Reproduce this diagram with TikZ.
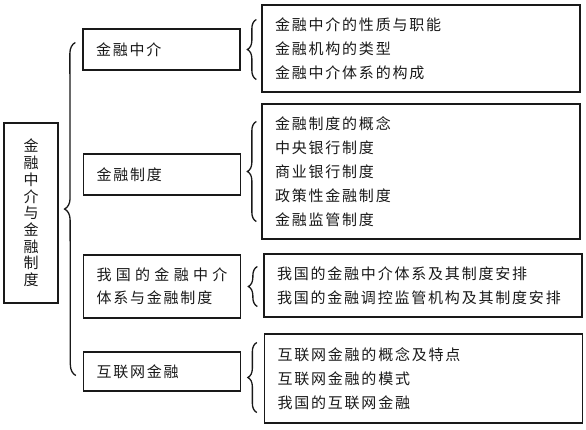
\documentclass[tikz,border=0pt]{standalone}
\usepackage{fontspec}
\newfontfamily\cjk[LetterSpace=12]{Noto Sans CJK SC}
\usetikzlibrary{calc,decorations.pathreplacing}
\definecolor{ink}{RGB}{25,25,25}

\begin{document}
\begin{tikzpicture}[x=1pt,y=-1pt,
    box/.style={draw=ink,line width=1.3pt,text=ink},
    midbox/.style={box,text width=131pt,inner xsep=13pt,align=left,
      font=\cjk\fontsize{15}{23}\selectfont},
    listbox/.style={box,text width=292pt,inner xsep=13pt,align=left,
      font=\cjk\fontsize{15}{24}\selectfont},
    curly/.style={draw=ink,line width=1.3pt,decorate,decoration={brace,amplitude=#1}}]
  \useasboundingbox (0,0) rectangle (586,429);

  % root
  \node[box,minimum width=54pt,minimum height=180pt,align=center,
    font=\cjk\fontsize{15}{16.7}\selectfont] (root) at (31,213)
    {金\\融\\中\\介\\与\\金\\融\\制\\度};

  % second level
  \node[midbox,minimum height=41pt] (zj) at (161.5,49.5) {金融中介};
  \node[midbox,minimum height=41pt] (zd) at (162,174.5) {金融制度};
  \node[midbox,minimum height=63pt] (wg) at (162,286.5)
    {\makebox[131pt][s]{我\hfil 国\hfil 的\hfil 金\hfil 融\hfil 中\hfil 介}\\体系与金融制度};
  \node[midbox,minimum height=39pt] (hl) at (162,371.5) {互联网金融};

  % third level
  \node[listbox,minimum height=87pt] (zjl) at (421,48.5)
    {金融中介的性质与职能\\金融机构的类型\\金融中介体系的构成};
  \node[listbox,minimum height=135pt] (zdl) at (421,171.5)
    {金融制度的概念\\中央银行制度\\商业银行制度\\政策性金融制度\\金融监管制度};
  \node[listbox,minimum height=63pt] (wgl) at (423,285.5)
    {我国的金融中介体系及其制度安排\\我国的金融调控监管机构及其制度安排};
  \node[listbox,minimum height=89pt] (hll) at (423.5,378.5)
    {互联网金融的概念及特点\\互联网金融的模式\\我国的互联网金融};

  % braces
  \draw[curly=11] ($(hl.west)+(-7,4)$) -- ($(zj.west)+(-7,-7)$);
  \draw[curly=9] ($(zjl.west)+(-5,31)$) -- ($(zjl.west)+(-5,-29)$);
  \draw[curly=9] ($(zdl.west)+(-5,50)$) -- ($(zdl.west)+(-5,-50)$);
  \draw[curly=9] ($(wgl.west)+(-6,21)$) -- ($(wgl.west)+(-6,-19)$);
  \draw[curly=9] ($(hll.west)+(-7,34)$) -- ($(hll.west)+(-7,-36)$);
\end{tikzpicture}
\end{document}
